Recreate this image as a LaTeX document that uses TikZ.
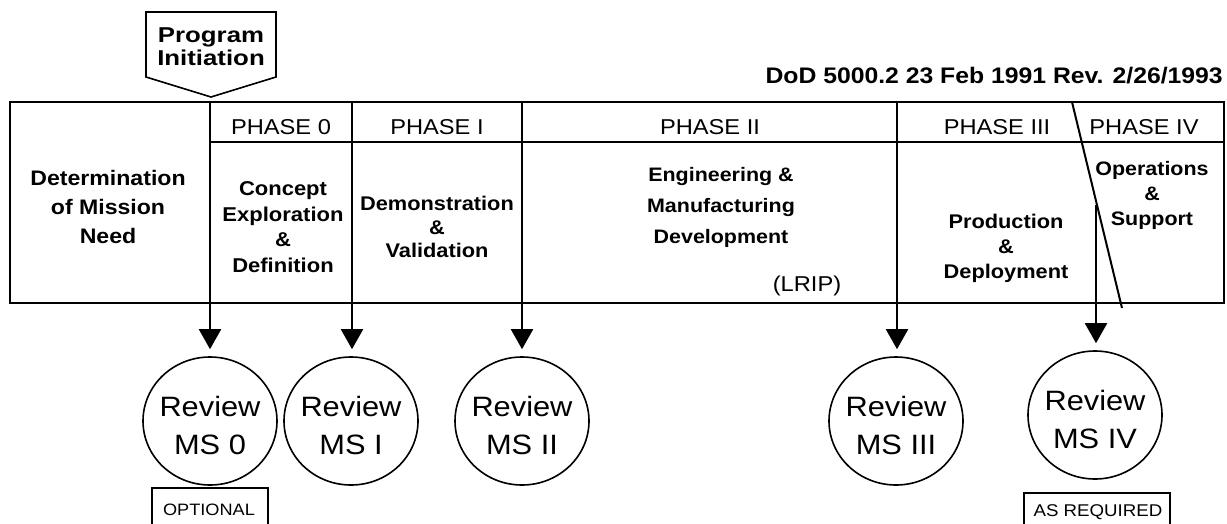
\documentclass[tikz,border=0pt]{standalone}
\usepackage{fontspec}
\setmainfont{Liberation Sans}
\newfontfamily\widefont[FakeStretch=1.1]{Liberation Sans}
\newfontfamily\widerfont[FakeStretch=1.2]{Liberation Sans}
\usetikzlibrary{arrows.meta,shapes.geometric}
\tikzset{
  x=1pt, y=-1pt,
  frame/.style={line width=2pt},
  arr/.style={line width=2pt, -{Triangle[length=20pt,width=22pt]}, shorten >=7pt},
  phaselbl/.style={font=\widefont\fontsize{21.5}{24}\selectfont, inner sep=0pt},
  body/.style={align=center, inner sep=0pt},
  review/.style={ellipse, draw, line width=1.6pt, minimum width=134pt, minimum height=128pt, inner sep=0pt},
  revtext/.style={align=center, inner sep=0pt, font=\widefont\fontsize{28}{38}\selectfont},
  tag/.style={inner sep=0pt},
}
\begin{document}
\begin{tikzpicture}
\useasboundingbox (0,0) rectangle (1227,523);
\clip (0,0) rectangle (1227,523);

% Program initiation pentagon
\draw[line width=1.6pt] (146,12) -- (276,12) -- (276,77) -- (211,97) -- (146,77) -- cycle;
\node[font=\widerfont\fontsize{21.5}{23}\selectfont\bfseries, align=center, inner sep=0pt] (pi) at (211,47) {Program\\Initiation};

% title
\node[font=\widefont\fontsize{22.5}{24}\selectfont\bfseries, anchor=east, inner sep=0pt] (title) at (1223,76)
  {DoD 5000.2 23 Feb 1991 Rev. 2/26/1993};

% frame
\draw[frame] (10,102) rectangle (1224,303);
\draw[frame] (210,142) -- (1223,142);
\draw[frame] (1072,102) -- (1122,308);

% phase labels
\node[phaselbl] (p0) at (281,127) {PHASE 0};
\node[phaselbl] (p1) at (437,127) {PHASE I};
\node[phaselbl] (p2) at (710,127) {PHASE II};
\node[phaselbl] (p3) at (997,127) {PHASE III};
\node[phaselbl] (p4) at (1144,127) {PHASE IV};

% body texts
\node[body, font=\widefont\fontsize{21}{29}\selectfont\bfseries] (need) at (108,207) {Determination\\of Mission\\Need};
\node[body, font=\widefont\fontsize{20}{25.7}\selectfont\bfseries] (cons) at (283,227) {Concept\\Exploration\\\&\\Definition};
\node[body, font=\widefont\fontsize{19.8}{23.5}\selectfont\bfseries] (demo) at (437,227) {Demonstration\\\&\\Validation};
\node[body, font=\widefont\fontsize{19.5}{31}\selectfont\bfseries] (emd) at (721,207) {Engineering \&\\Manufacturing\\Development};
\node[inner sep=0pt, font=\widefont\fontsize{21.5}{24}\selectfont] (lrip) at (807,286) {(LRIP)};
\node[body, font=\widefont\fontsize{19.8}{25}\selectfont\bfseries] (prod) at (1006,248) {Production\\\&\\Deployment};
\node[body, font=\widefont\fontsize{19.5}{25}\selectfont\bfseries] (ops) at (1152,195) {Operations\\\&\\Support};

% review circles
\node[review] (ms0) at (210,421) {};
\node[review] (ms1) at (351,421) {};
\node[review] (ms2) at (522,421) {};
\node[review] (ms3) at (896,421) {};
\node[review] (ms4) at (1095,415) {};
\node[revtext] (t0) at ([yshift=-4pt]ms0.center) {Review\\MS 0};
\node[revtext] (t1) at ([yshift=-4pt]ms1.center) {Review\\MS I};
\node[revtext] (t2) at ([yshift=-4pt]ms2.center) {Review\\MS II};
\node[revtext] (t3) at ([yshift=-4pt]ms3.center) {Review\\MS III};
\node[revtext] (t4) at ([yshift=-4pt]ms4.center) {Review\\MS IV};

% dividers continuing as arrows
\coordinate (d0) at (210,102);
\coordinate (d1) at (352,102);
\coordinate (d2) at (522,102);
\coordinate (d3) at (897,102);
\coordinate (d4) at (1096,205);
\draw[arr] (d0) -- (ms0.north);
\draw[arr] (d1) -- (ms1.north -| d1);
\draw[arr] (d2) -- (ms2.north);
\draw[arr] (d3) -- (ms3.north -| d3);
\draw[arr] (d4) -- (ms4.north -| d4);

% tags
\draw[line width=1.6pt] (152,530) -- (152,488) -- (268,488) -- (268,530);
\node[tag, font=\widefont\fontsize{16.5}{18}\selectfont] (opt) at (209,510) {OPTIONAL};
\draw[line width=1.6pt] (1024,530) -- (1024,493) -- (1170,493) -- (1170,530);
\node[tag, font=\widefont\fontsize{17}{19}\selectfont] (asreq) at (1098,512) {AS REQUIRED};
\end{tikzpicture}
\end{document}
